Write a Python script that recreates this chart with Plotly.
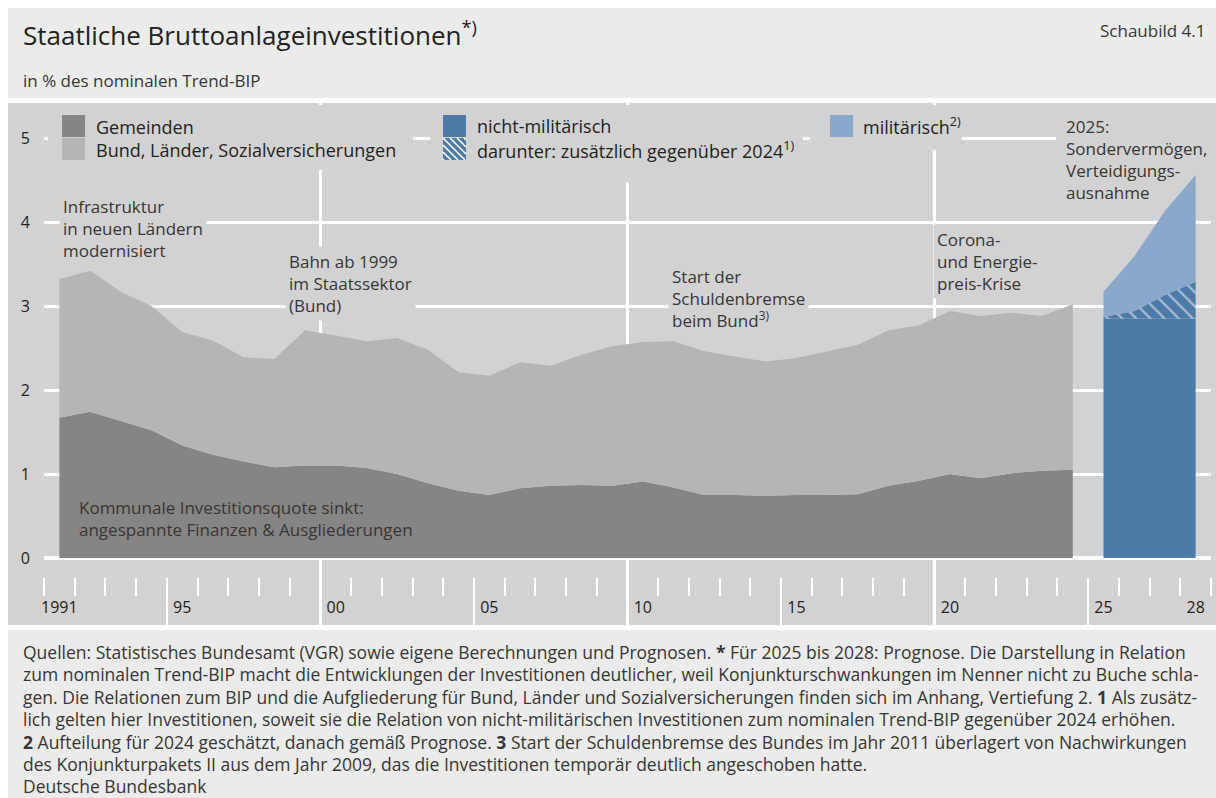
import plotly.graph_objects as go

# Werte in % des nominalen Trend-BIP
jahre = list(range(1991, 2025))
gemeinden = [1.67, 1.74, 1.63, 1.52, 1.34, 1.23, 1.15, 1.08, 1.10, 1.10,
             1.07, 1.00, 0.89, 0.80, 0.75, 0.83, 0.86, 0.87, 0.86, 0.91,
             0.84, 0.75, 0.75, 0.74, 0.75, 0.75, 0.76, 0.86, 0.92, 1.00,
             0.95, 1.01, 1.04, 1.05]
bund_laender_sv = [1.65, 1.68, 1.54, 1.48, 1.35, 1.36, 1.24, 1.29, 1.61, 1.55,
                   1.51, 1.62, 1.59, 1.41, 1.42, 1.50, 1.43, 1.55, 1.66, 1.66,
                   1.74, 1.71, 1.65, 1.60, 1.63, 1.71, 1.78, 1.85, 1.85, 1.94,
                   1.93, 1.91, 1.84, 1.97]

prognose_jahre = [2025, 2026, 2027, 2028]
nicht_mil_basis = [2.85, 2.85, 2.85, 2.85]
nicht_mil_zusaetzlich = [0.02, 0.09, 0.28, 0.44]
militaerisch = [0.30, 0.65, 1.00, 1.27]

label_jahre = [1991, 1995, 2000, 2005, 2010, 2015, 2020, 2025, 2028]
label_text = ['1991', '95', '00', '05', '10', '15', '20', '25', '28']

GEM = '#868583'
BUND = '#b6b5b3'
BLAU = '#4e7aa8'
HELLBLAU = '#8ba7c9'
PANEL = '#d2d2d2'
KOPF = '#ebebeb'
TEXT = '#363636'
FONT = 'Open Sans'

# Plotbereich in Pixeln
L, R, T, B = 44, 1211, 103, 625
NULL_PX, EINHEIT = 558, 84


def px(x):
    return (x - L) / (R - L)


def py(y):
    return (B - y) / (B - T)


fig = go.Figure()

xm = [j + 0.5 for j in jahre]
fig.add_trace(go.Scatter(x=xm, y=gemeinden, stackgroup='ist', mode='lines',
                         line=dict(width=0), fillcolor=GEM, name='Gemeinden'))
fig.add_trace(go.Scatter(x=xm, y=bund_laender_sv, stackgroup='ist', mode='lines',
                         line=dict(width=0), fillcolor=BUND,
                         name='Bund, Länder, Sozialversicherungen'))

xp = [j + 0.5 for j in prognose_jahre]
fig.add_trace(go.Scatter(x=xp, y=nicht_mil_basis, stackgroup='prog', mode='lines',
                         line=dict(width=0), fillcolor=BLAU, name='nicht-militärisch'))
fig.add_trace(go.Scatter(x=xp, y=nicht_mil_zusaetzlich, stackgroup='prog', mode='lines',
                         line=dict(width=0), fillcolor=BLAU,
                         fillpattern=dict(shape='\\', fgcolor='white', bgcolor=BLAU,
                                          size=10, solidity=0.22),
                         name='zusätzlich gegenüber 2024'))
fig.add_trace(go.Scatter(x=xp, y=militaerisch, stackgroup='prog', mode='lines',
                         line=dict(width=0), fillcolor=HELLBLAU, name='militärisch'))

# leere Spuren, damit die Hilfsachsen (Ticks, senkrechte Gitterlinien) gezeichnet werden
fig.add_trace(go.Scatter(x=[], y=[], xaxis='x2', hoverinfo='skip'))
fig.add_trace(go.Scatter(x=[], y=[], xaxis='x3', hoverinfo='skip'))

shapes = []
# Hintergrundflächen
for y0, y1, farbe in [(8, 98, KOPF), (T, B, PANEL), (630, 798, KOPF)]:
    shapes.append(dict(type='rect', xref='paper', yref='paper', layer='below',
                       x0=px(8), x1=px(1216), y0=py(y1), y1=py(y0),
                       fillcolor=farbe, line=dict(width=0)))

# Legenden-Hintergründe (unterbrechen die Gitterlinien)
for x0, x1, y0, y1 in [(48, 413, 105, 170), (430, 803, 105, 182), (810, 962, 105, 150),
                       (1056, 1211, 118, 150)]:
    shapes.append(dict(type='rect', xref='paper', yref='paper', layer='above',
                       x0=px(x0), x1=px(x1), y0=py(y1), y1=py(y0),
                       fillcolor=PANEL, line=dict(width=0)))

# Legendenfelder
legende = [(62, 115, GEM), (62, 138, BUND), (443, 115, BLAU), (443, 138, BLAU), (830, 115, HELLBLAU)]
for x0, y0, farbe in legende:
    shapes.append(dict(type='rect', xref='paper', yref='paper', layer='above',
                       x0=px(x0), x1=px(x0 + 23), y0=py(y0 + 22), y1=py(y0),
                       fillcolor=farbe, line=dict(width=0)))

# Schraffur im Legendenfeld
hx0, hy0, hw, hh = 443, 138, 23, 22
for d in [-21, -14, -7, 0, 7, 14, 21]:
    t0 = max(0.0, -d / hh)
    t1 = min(1.0, (hw - d) / hh)
    if t0 < t1:
        shapes.append(dict(type='line', xref='paper', yref='paper', layer='above',
                           x0=px(hx0 + d + t0 * hh), y0=py(hy0 + t0 * hh),
                           x1=px(hx0 + d + t1 * hh), y1=py(hy0 + t1 * hh),
                           line=dict(color='white', width=1.6)))

annotations = []


def txt(x, y, text, size=17, weight=400, xanchor='left', bg=None, color=TEXT):
    annotations.append(dict(xref='paper', yref='paper', x=px(x), y=py(y), text=text,
                            showarrow=False, xanchor=xanchor, yanchor='middle',
                            align='left', bgcolor=bg, borderpad=3,
                            font=dict(family=FONT, size=size, color=color, weight=weight)))


txt(19, 34, 'Staatliche Bruttoanlageinvestitionen<sup>*)</sup>', size=26, color='#222222')
txt(1209, 31, 'Schaubild 4.1', xanchor='right')
txt(19, 80, 'in % des nominalen Trend-BIP')

LEG = dict(size=18, weight=500, color='#222222')
txt(92, 127, 'Gemeinden', **LEG)
txt(92, 150, 'Bund, Länder, Sozialversicherungen', **LEG)
txt(473, 126, 'nicht-militärisch', **LEG)
txt(473, 150, '<span style="font-weight:400">darunter:</span> zusätzlich gegenüber 2024<sup>1)</sup>', **LEG)
txt(859, 126, 'militärisch<sup>2)</sup>', **LEG)

txt(59, 228, 'Infrastruktur<br>in neuen Ländern<br>modernisiert', bg=PANEL)
txt(285, 283, 'Bahn ab 1999<br>im Staatssektor<br>(Bund)', bg=PANEL)
txt(668, 298, 'Start der<br>Schuldenbremse<br>beim Bund<sup>3)</sup>', bg=PANEL)
txt(933, 261, 'Corona-<br>und Energie-<br>preis-Krise', bg=PANEL)
txt(1062, 159, '2025:<br>Sondervermögen,<br>Verteidigungs-<br>ausnahme')
txt(75, 518, 'Kommunale Investitionsquote sinkt:<br>angespannte Finanzen & Ausgliederungen')

fussnote = [
    'Quellen: Statistisches Bundesamt (VGR) sowie eigene Berechnungen und Prognosen. <b>*</b> Für 2025 bis 2028: Prognose. Die Darstellung in Relation',
    'zum nominalen Trend-BIP macht die Entwicklungen der Investitionen deutlicher, weil Konjunkturschwankungen im Nenner nicht zu Buche schla-',
    'gen. Die Relationen zum BIP und die Aufgliederung für Bund, Länder und Sozialversicherungen finden sich im Anhang, Vertiefung 2. <b>1</b> Als zusätz-',
    'lich gelten hier Investitionen, soweit sie die Relation von nicht-militärischen Investitionen zum nominalen Trend-BIP gegenüber 2024 erhöhen.',
    '<b>2</b> Aufteilung für 2024 geschätzt, danach gemäß Prognose. <b>3</b> Start der Schuldenbremse des Bundes im Jahr 2011 überlagert von Nachwirkungen',
    'des Konjunkturpakets II aus dem Jahr 2009, das die Investitionen temporär deutlich angeschoben hatte.',
]
for i, zeile in enumerate(fussnote):
    txt(19, 652 + i * 22.4, zeile, size=17.5)
txt(19, 786, 'Deutsche Bundesbank', size=17.5)

achsenfont = dict(family=FONT, size=16, color='#222222', weight=400)
xr = [1991, 2029]

fig.update_layout(
    width=1216, height=798,
    margin=dict(l=L, r=1216 - R, t=T, b=798 - B),
    paper_bgcolor='white', plot_bgcolor=PANEL,
    showlegend=False,
    font=dict(family=FONT, color=TEXT),
    shapes=shapes, annotations=annotations,
    xaxis=dict(range=xr, anchor='free', position=py(596),
               tickvals=[j + 0.5 for j in label_jahre], ticktext=label_text,
               ticks='', showgrid=False, zeroline=False, showline=False,
               tickfont=achsenfont, fixedrange=True),
    xaxis2=dict(range=xr, overlaying='x', anchor='free', position=py(577), side='bottom',
                tickvals=[1995, 2000, 2005, 2010, 2015, 2020, 2025],
                ticks='outside', ticklen=48, tickwidth=2, tickcolor='white',
                showticklabels=False, showgrid=False, zeroline=False, showline=False,
                minor=dict(tickvals=list(range(1991, 2030)), ticks='outside',
                           ticklen=18, tickwidth=2, tickcolor='white')),
    xaxis3=dict(range=xr, overlaying='x', tickvals=[2000, 2010, 2020],
                showgrid=True, gridcolor='white', gridwidth=2.5,
                showticklabels=False, ticks='', zeroline=False, showline=False),
    yaxis=dict(range=[(NULL_PX - B) / EINHEIT, (NULL_PX - T) / EINHEIT],
               tickvals=[0, 1, 2, 3, 4, 5], showgrid=True, gridcolor='white', gridwidth=3,
               zeroline=True, zerolinecolor='white', zerolinewidth=4,
               ticks='outside', ticklen=10, tickcolor='rgba(0,0,0,0)',
               showline=False, tickfont=achsenfont, fixedrange=True),
)

fig.write_html('out.html', config={'displayModeBar': False},
               post_script="document.body.style.margin='0px';")
